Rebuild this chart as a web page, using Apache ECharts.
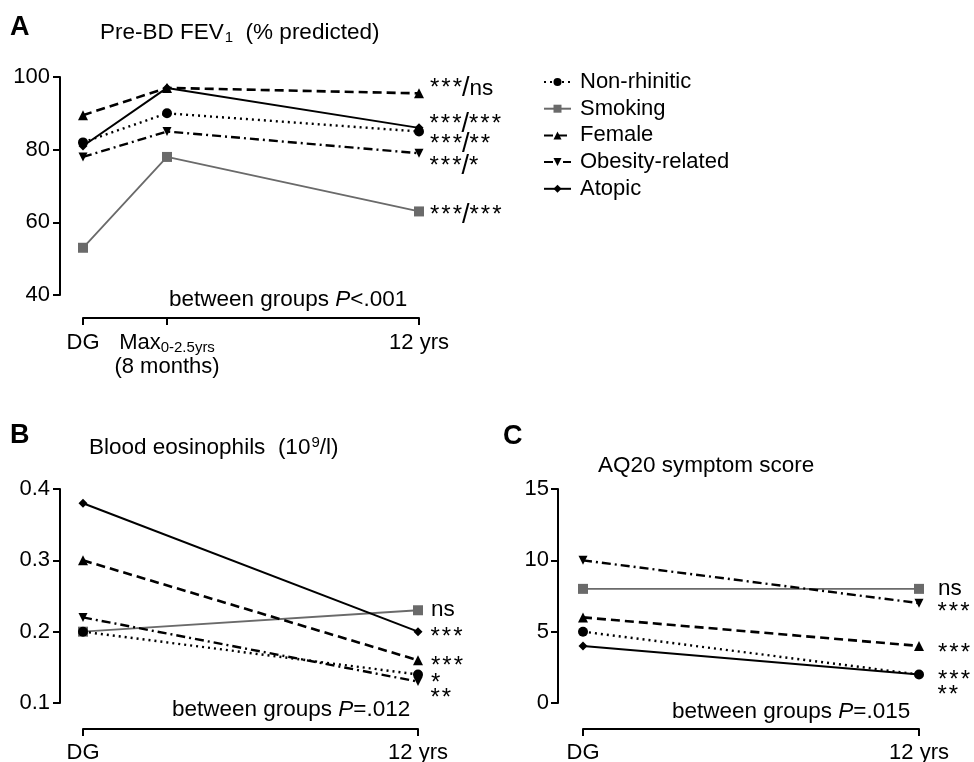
<!DOCTYPE html>
<html><head><meta charset="utf-8">
<script src="https://cdn.jsdelivr.net/npm/echarts@6/dist/echarts.min.js"></script>
<style>html,body{margin:0;padding:0;background:#fff}#c{width:974px;height:762px}</style>
</head><body><div id="c"></div>
<script>
// ---------- data ----------
const groups = ['Non-rhinitic', 'Smoking', 'Female', 'Obesity-related', 'Atopic'];

const timepointsA = ['DG', 'Max', '12 yrs'];
const timepointSubA = ['', '0-2.5yrs', ''];
const timepointNoteA = ['', '(8 months)', ''];
const timepointPosA = [0, 1, 4];
const timepointsBC = ['DG', '12 yrs'];

const yTicksA = [40, 60, 80, 100];
const yTicksB = [0.1, 0.2, 0.3, 0.4];
const yTicksC = [0, 5, 10, 15];

// Panel A: Pre-BD FEV1 (% predicted)
const fevNonRhinitic = [82, 90, 85];
const fevSmoking = [53, 78, 63];
const fevFemale = [89.5, 97, 95.5];
const fevObesity = [78, 85, 79];
const fevAtopic = [81, 97, 86];
const sigA = ['***/**', '***/***', '***/ns', '***/*', '***/***'];

// Panel B: Blood eosinophils (10^9/l)
const eosNonRhinitic = [0.20, 0.14];
const eosSmoking = [0.20, 0.23];
const eosFemale = [0.30, 0.16];
const eosObesity = [0.22, 0.13];
const eosAtopic = [0.38, 0.20];
const sigB = ['*', 'ns', '***', '**', '***'];

// Panel C: AQ20 symptom score
const aqNonRhinitic = [5, 2];
const aqSmoking = [8, 8];
const aqFemale = [6, 4];
const aqObesity = [10, 7];
const aqAtopic = [4, 2];
const sigC = ['***', 'ns', '***', '***', '**'];

const pTextA = '<.001';
const pTextB = '=.012';
const pTextC = '=.015';

// ---------- styles ----------
const FONT = '"Liberation Sans", Arial, Helvetica, sans-serif';
const FS = 22.5;
const GRAY = '#6a6a6a';
const downTri = 'path://M0,0 L10,0 L5,10 Z';
const gStyle = [
  { symbol: 'circle', size: 10, color: '#000', line: { type: [2, 4], width: 2.4 } },
  { symbol: 'rect', size: 10, color: GRAY, line: { type: 'solid', width: 1.8 } },
  { symbol: 'triangle', size: 10, color: '#000', line: { type: [9, 5], width: 2.6 } },
  { symbol: downTri, size: 9, color: '#000', line: { type: [9, 4, 2, 4], width: 2.4 } },
  { symbol: 'diamond', size: 9, color: '#000', line: { type: 'solid', width: 2 } }
];
const labelOffA = [[0, 13], [0, 4], [0, -5], [0, 13], [0, -3]];
const labelOffB = [[0, 9], [0, 0], [0, 6], [0, 17], [0, 6]];
const labelOffC = [[0, 6], [0, 0], [0, 7], [0, 9], [0, 21]];

const sigRich = {
  t: { fontSize: FS, fontFamily: FONT, color: '#000' },
  st: { fontSize: 24, fontFamily: FONT, color: '#000' },
  sl: { fontSize: 27, fontFamily: FONT, color: '#000' }
};
function sigPart(p) {
  if (/^\*+$/.test(p)) return '{st|' + p.split('').join('\u200A') + '}';
  return '{t|' + p + '}';
}
function sigFormat(s) {
  const parts = s.split('/');
  if (parts.length === 1) return sigPart(s);
  return sigPart(parts[0]) + '{sl|/}' + sigPart(parts[1]);
}

function mkSeries(name, idx, data, axisIdx, sig, off, dist) {
  const st = gStyle[idx];
  const last = data.length - 1;
  const d = data.map((p, i) => {
    if (i !== last) return p;
    return {
      value: p,
      label: {
        show: true, position: 'right', distance: dist, offset: off,
        formatter: sigFormat(sig), rich: sigRich
      }
    };
  });
  return {
    type: 'line', name: name, xAxisIndex: axisIdx, yAxisIndex: axisIdx,
    data: d, symbol: st.symbol, symbolSize: st.size, showSymbol: true,
    itemStyle: { color: st.color, borderWidth: 0 },
    lineStyle: { color: st.color, width: st.line.width, type: st.line.type, cap: 'butt' },
    emphasis: { disabled: true }, animation: false, z: idx === 1 ? 1 : 2
  };
}

const fevAll = [fevNonRhinitic, fevSmoking, fevFemale, fevObesity, fevAtopic];
const eosAll = [eosNonRhinitic, eosSmoking, eosFemale, eosObesity, eosAtopic];
const aqAll = [aqNonRhinitic, aqSmoking, aqFemale, aqObesity, aqAtopic];

const series = [];
groups.forEach((g, i) => {
  series.push(mkSeries(g, i, fevAll[i].map((v, k) => [timepointPosA[k], v]), 0, sigA[i], labelOffA[i], 6));
});
groups.forEach((g, i) => {
  series.push(mkSeries(g, i, eosAll[i], 1, sigB[i], labelOffB[i], 8));
});
groups.forEach((g, i) => {
  series.push(mkSeries(g, i, aqAll[i], 2, sigC[i], labelOffC[i], 14));
});

const axisLine = { show: true, onZero: false, lineStyle: { color: '#000', width: 2 } };
const axisTick = { show: true, length: 7, lineStyle: { color: '#000', width: 2 } };
const lbl = { color: '#000', fontSize: 22, fontFamily: FONT };

function yAxis(grid, ticks, offset, margin) {
  const iv = +(ticks[1] - ticks[0]).toFixed(6);
  return {
    type: 'value', gridIndex: grid, min: ticks[0], max: ticks[ticks.length - 1], interval: iv,
    offset: offset, axisLine: axisLine, axisTick: axisTick, splitLine: { show: false },
    axisLabel: Object.assign({ margin: margin, formatter: v => String(+v.toFixed(2)) }, lbl)
  };
}

const titleText = { color: '#000', fontSize: FS, fontFamily: FONT, fontWeight: 'normal' };
function t(text, left, top, rich, extra) {
  return {
    text: text, left: left, top: top, padding: 0,
    textStyle: Object.assign({}, titleText, extra || {}, { rich: rich || {} })
  };
}
const baseRich = {
  a: { fontSize: FS, fontFamily: FONT, color: '#000' },
  i: { fontSize: FS, fontFamily: FONT, color: '#000', fontStyle: 'italic' },
  s: { fontSize: 15, fontFamily: FONT, color: '#000', padding: [10, 0, 0, 1] },
  u: { fontSize: 15, fontFamily: FONT, color: '#000', padding: [0, 0, 10, 1] }
};

const option = {
  backgroundColor: '#fff',
  animation: false,
  title: [
    t('A', 10, 14, null, { fontSize: 27, fontWeight: 'bold' }),
    t('B', 10, 422, null, { fontSize: 27, fontWeight: 'bold' }),
    t('C', 503, 423, null, { fontSize: 27, fontWeight: 'bold' }),
    t('{a|Pre-BD FEV}{s|1}{a|  (% predicted)}', 100, 20, baseRich),
    t('{a|Blood eosinophils  (10}{u|9}{a|/l)}', 89, 435, baseRich),
    t('{a|AQ20 symptom score}', 598, 454, baseRich),
    t('{a|between groups }{i|P}{a|' + pTextA + '}', 169, 288, baseRich),
    t('{a|between groups }{i|P}{a|' + pTextB + '}', 172, 698, baseRich),
    t('{a|between groups }{i|P}{a|' + pTextC + '}', 672, 700, baseRich)
  ],
  legend: {
    data: groups, orient: 'vertical', left: 538, top: 66,
    itemWidth: 27, itemHeight: 10, itemGap: 4.7,
    textStyle: { color: '#000', fontSize: 22, fontFamily: FONT, padding: [0, 0, 0, 4] },
    selectedMode: false
  },
  grid: [
    { left: 83, top: 77, width: 336, height: 218, outerBoundsMode: 'none' },
    { left: 83, top: 489, width: 335, height: 214, outerBoundsMode: 'none' },
    { left: 583, top: 489, width: 336, height: 214, outerBoundsMode: 'none' }
  ],
  xAxis: [
    {
      type: 'value', gridIndex: 0, min: timepointPosA[0], max: timepointPosA[timepointPosA.length - 1],
      offset: 23, axisLine: axisLine, splitLine: { show: false },
      axisTick: Object.assign({ customValues: timepointPosA }, axisTick),
      axisLabel: Object.assign({
        margin: 13, customValues: timepointPosA,
        formatter: v => {
          const k = timepointPosA.indexOf(v);
          if (k < 0) return '';
          let s = '{m|' + timepointsA[k] + '}';
          if (timepointSubA[k]) s += '{sub|' + timepointSubA[k] + '}';
          if (timepointNoteA[k]) s += '\n{m|' + timepointNoteA[k] + '}';
          return s;
        },
        rich: {
          m: { fontSize: 22, fontFamily: FONT, color: '#000', lineHeight: 23 },
          sub: { fontSize: 15, fontFamily: FONT, color: '#000', padding: [9, 0, 0, 0] }
        }
      }, lbl)
    },
    {
      type: 'category', gridIndex: 1, data: timepointsBC, boundaryGap: false, offset: 26,
      axisLine: axisLine, axisTick: axisTick, splitLine: { show: false },
      axisLabel: Object.assign({ margin: 13 }, lbl)
    },
    {
      type: 'category', gridIndex: 2, data: timepointsBC, boundaryGap: false, offset: 26,
      axisLine: axisLine, axisTick: axisTick, splitLine: { show: false },
      axisLabel: Object.assign({ margin: 13 }, lbl)
    }
  ],
  yAxis: [
    yAxis(0, yTicksA, 23, 10),
    yAxis(1, yTicksB, 23, 10),
    yAxis(2, yTicksC, 25, 9)
  ],
  series: series
};

const chart = echarts.init(document.getElementById('c'), null, { renderer: 'canvas' });
chart.setOption(option);
</script>
</body></html>
